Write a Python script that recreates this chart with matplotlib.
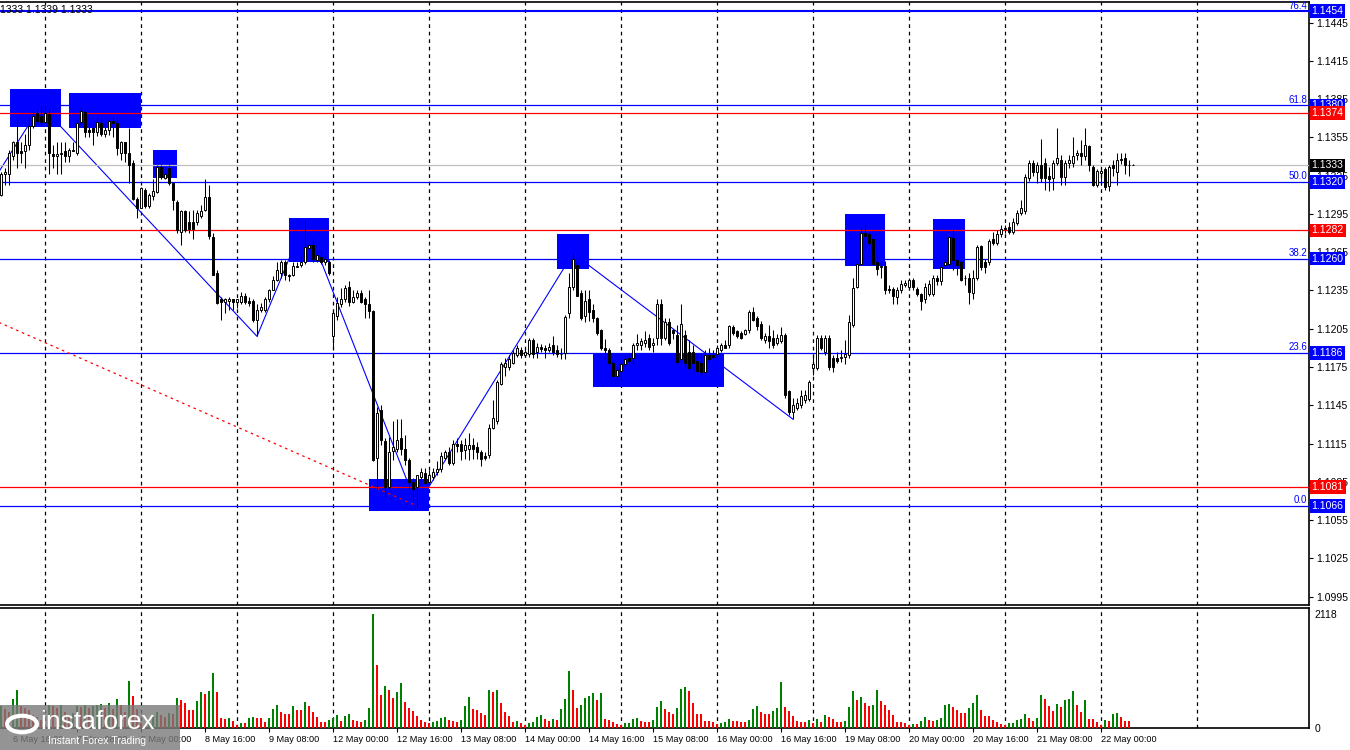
import numpy as np
import pandas as pd
import matplotlib
matplotlib.use("Agg")
import matplotlib.pyplot as plt
import matplotlib.transforms as mtransforms
from matplotlib.patches import Rectangle

plt.rcParams['font.family'] = ['Liberation Sans', 'DejaVu Sans']

# EURUSD H1 bars, 6 May 13:00 -> 22 May 07:00
opens = [
    1.1310, 1.1326, 1.1326, 1.1340, 1.1351, 1.1344, 1.1344, 1.1349, 1.1364, 1.1374, 1.1372, 1.1367,
    1.1373, 1.1342, 1.1340, 1.1342, 1.1344, 1.1340, 1.1345, 1.1343, 1.1367, 1.1375, 1.1361, 1.1362,
    1.1359, 1.1366, 1.1358, 1.1361, 1.1368, 1.1366, 1.1343, 1.1351, 1.1343, 1.1335, 1.1307, 1.1300,
    1.1314, 1.1301, 1.1309, 1.1312, 1.1332, 1.1323, 1.1331, 1.1319, 1.1304, 1.1281, 1.1297, 1.1289,
    1.1289, 1.1289, 1.1293, 1.1298, 1.1308, 1.1277, 1.1249, 1.1228, 1.1226, 1.1227, 1.1228, 1.1226,
    1.1226, 1.1231, 1.1227, 1.1227, 1.1212, 1.1220, 1.1220, 1.1228, 1.1235, 1.1243, 1.1249, 1.1257,
    1.1247, 1.1247, 1.1253, 1.1255, 1.1257, 1.1268, 1.1271, 1.1259, 1.1261, 1.1257, 1.1257, 1.1199,
    1.1215, 1.1224, 1.1228, 1.1238, 1.1226, 1.1230, 1.1233, 1.1228, 1.1224, 1.1219, 1.1104, 1.1141,
    1.1117, 1.1081, 1.1109, 1.1111, 1.1119, 1.1111, 1.1102, 1.1085, 1.1081, 1.1089, 1.1092, 1.1085,
    1.1089, 1.1093, 1.1095, 1.1104, 1.1108, 1.1100, 1.1115, 1.1115, 1.1110, 1.1111, 1.1114, 1.1112,
    1.1108, 1.1105, 1.1106, 1.1127, 1.1133, 1.1162, 1.1175, 1.1175, 1.1178, 1.1184, 1.1188, 1.1184,
    1.1185, 1.1196, 1.1187, 1.1191, 1.1190, 1.1188, 1.1192, 1.1188, 1.1185, 1.1186, 1.1217, 1.1238,
    1.1255, 1.1233, 1.1215, 1.1228, 1.1220, 1.1213, 1.1204, 1.1190, 1.1188, 1.1178, 1.1168, 1.1172,
    1.1177, 1.1182, 1.1182, 1.1192, 1.1192, 1.1194, 1.1198, 1.1192, 1.1198, 1.1224, 1.1198, 1.1210,
    1.1204, 1.1200, 1.1181, 1.1200, 1.1187, 1.1187, 1.1180, 1.1178, 1.1171, 1.1184, 1.1184, 1.1185,
    1.1188, 1.1192, 1.1192, 1.1206, 1.1203, 1.1202, 1.1201, 1.1204, 1.1218, 1.1213, 1.1209, 1.1196,
    1.1199, 1.1198, 1.1194, 1.1195, 1.1200, 1.1156, 1.1140, 1.1143, 1.1145, 1.1149, 1.1150, 1.1174,
    1.1174, 1.1198, 1.1187, 1.1198, 1.1182, 1.1182, 1.1182, 1.1183, 1.1184, 1.1208, 1.1238, 1.1256,
    1.1280, 1.1279, 1.1275, 1.1257, 1.1253, 1.1254, 1.1236, 1.1236, 1.1230, 1.1235, 1.1239, 1.1238,
    1.1243, 1.1236, 1.1232, 1.1228, 1.1232, 1.1232, 1.1245, 1.1242, 1.1255, 1.1256, 1.1276, 1.1259,
    1.1257, 1.1245, 1.1245, 1.1233, 1.1245, 1.1270, 1.1257, 1.1257, 1.1275, 1.1272, 1.1279, 1.1283,
    1.1285, 1.1281, 1.1288, 1.1296, 1.1297, 1.1323, 1.1335, 1.1328, 1.1333, 1.1335, 1.1325, 1.1323,
    1.1335, 1.1337, 1.1324, 1.1335, 1.1335, 1.1341, 1.1343, 1.1340, 1.1348, 1.1332, 1.1318, 1.1327,
    1.1330, 1.1317, 1.1333, 1.1328, 1.1338, 1.1339, 1.1333, 1.1333,
]
highs = [
    1.1328, 1.1331, 1.1345, 1.1352, 1.1369, 1.1351, 1.1358, 1.1371, 1.1375, 1.1377, 1.1380, 1.1380,
    1.1377, 1.1349, 1.1351, 1.1351, 1.1351, 1.1347, 1.1351, 1.1369, 1.1378, 1.1376, 1.1366, 1.1366,
    1.1370, 1.1369, 1.1366, 1.1369, 1.1371, 1.1369, 1.1352, 1.1351, 1.1362, 1.1337, 1.1308, 1.1316,
    1.1315, 1.1311, 1.1322, 1.1333, 1.1333, 1.1332, 1.1333, 1.1320, 1.1306, 1.1298, 1.1298, 1.1297,
    1.1298, 1.1298, 1.1302, 1.1322, 1.1318, 1.1280, 1.1251, 1.1230, 1.1229, 1.1230, 1.1228, 1.1228,
    1.1234, 1.1233, 1.1230, 1.1228, 1.1224, 1.1225, 1.1230, 1.1236, 1.1246, 1.1257, 1.1259, 1.1259,
    1.1248, 1.1257, 1.1257, 1.1262, 1.1290, 1.1272, 1.1275, 1.1267, 1.1267, 1.1263, 1.1259, 1.1220,
    1.1230, 1.1237, 1.1239, 1.1242, 1.1235, 1.1235, 1.1235, 1.1230, 1.1235, 1.1220, 1.1144, 1.1145,
    1.1119, 1.1120, 1.1133, 1.1134, 1.1134, 1.1122, 1.1104, 1.1088, 1.1090, 1.1096, 1.1096, 1.1094,
    1.1096, 1.1101, 1.1108, 1.1110, 1.1112, 1.1118, 1.1119, 1.1118, 1.1119, 1.1123, 1.1119, 1.1116,
    1.1110, 1.1108, 1.1130, 1.1149, 1.1165, 1.1179, 1.1182, 1.1184, 1.1188, 1.1192, 1.1191, 1.1190,
    1.1198, 1.1198, 1.1194, 1.1193, 1.1192, 1.1194, 1.1199, 1.1192, 1.1190, 1.1216, 1.1249, 1.1264,
    1.1257, 1.1235, 1.1235, 1.1235, 1.1224, 1.1214, 1.1205, 1.1197, 1.1190, 1.1180, 1.1175, 1.1180,
    1.1184, 1.1186, 1.1194, 1.1201, 1.1198, 1.1203, 1.1201, 1.1198, 1.1228, 1.1228, 1.1213, 1.1213,
    1.1205, 1.1208, 1.1224, 1.1204, 1.1196, 1.1192, 1.1184, 1.1186, 1.1188, 1.1190, 1.1188, 1.1192,
    1.1194, 1.1196, 1.1208, 1.1208, 1.1204, 1.1203, 1.1205, 1.1220, 1.1222, 1.1215, 1.1211, 1.1202,
    1.1208, 1.1204, 1.1201, 1.1206, 1.1202, 1.1157, 1.1151, 1.1151, 1.1157, 1.1157, 1.1165, 1.1184,
    1.1200, 1.1200, 1.1200, 1.1200, 1.1184, 1.1187, 1.1188, 1.1196, 1.1216, 1.1245, 1.1259, 1.1285,
    1.1286, 1.1281, 1.1276, 1.1263, 1.1257, 1.1258, 1.1239, 1.1238, 1.1238, 1.1243, 1.1243, 1.1245,
    1.1245, 1.1238, 1.1233, 1.1241, 1.1243, 1.1247, 1.1247, 1.1257, 1.1263, 1.1278, 1.1282, 1.1260,
    1.1259, 1.1247, 1.1249, 1.1251, 1.1271, 1.1271, 1.1260, 1.1275, 1.1281, 1.1282, 1.1286, 1.1286,
    1.1289, 1.1292, 1.1298, 1.1306, 1.1326, 1.1337, 1.1337, 1.1336, 1.1354, 1.1339, 1.1332, 1.1337,
    1.1362, 1.1341, 1.1337, 1.1341, 1.1355, 1.1345, 1.1353, 1.1362, 1.1349, 1.1333, 1.1330, 1.1331,
    1.1332, 1.1333, 1.1337, 1.1343, 1.1343, 1.1343, 1.1337, 1.1334,
]
lows = [
    1.1309, 1.1318, 1.1318, 1.1337, 1.1331, 1.1335, 1.1331, 1.1345, 1.1362, 1.1366, 1.1365, 1.1366,
    1.1326, 1.1331, 1.1326, 1.1326, 1.1336, 1.1336, 1.1344, 1.1341, 1.1365, 1.1355, 1.1355, 1.1349,
    1.1356, 1.1356, 1.1355, 1.1357, 1.1355, 1.1341, 1.1337, 1.1336, 1.1319, 1.1306, 1.1292, 1.1300,
    1.1300, 1.1300, 1.1306, 1.1311, 1.1322, 1.1322, 1.1318, 1.1298, 1.1280, 1.1271, 1.1281, 1.1280,
    1.1275, 1.1286, 1.1292, 1.1297, 1.1275, 1.1247, 1.1224, 1.1212, 1.1217, 1.1220, 1.1220, 1.1221,
    1.1224, 1.1224, 1.1223, 1.1210, 1.1199, 1.1218, 1.1218, 1.1226, 1.1235, 1.1242, 1.1245, 1.1243,
    1.1242, 1.1246, 1.1253, 1.1253, 1.1256, 1.1267, 1.1257, 1.1257, 1.1256, 1.1255, 1.1247, 1.1191,
    1.1212, 1.1222, 1.1226, 1.1223, 1.1225, 1.1228, 1.1225, 1.1213, 1.1213, 1.1101, 1.1079, 1.1114,
    1.1073, 1.1079, 1.1102, 1.1108, 1.1106, 1.1098, 1.1079, 1.1071, 1.1066, 1.1083, 1.1083, 1.1083,
    1.1086, 1.1090, 1.1093, 1.1102, 1.1098, 1.1098, 1.1108, 1.1102, 1.1103, 1.1102, 1.1103, 1.1103,
    1.1097, 1.1102, 1.1104, 1.1126, 1.1130, 1.1161, 1.1168, 1.1173, 1.1177, 1.1183, 1.1182, 1.1183,
    1.1183, 1.1182, 1.1182, 1.1187, 1.1182, 1.1187, 1.1184, 1.1183, 1.1181, 1.1181, 1.1213, 1.1235,
    1.1232, 1.1212, 1.1210, 1.1211, 1.1210, 1.1200, 1.1188, 1.1182, 1.1177, 1.1167, 1.1165, 1.1165,
    1.1175, 1.1177, 1.1177, 1.1188, 1.1188, 1.1191, 1.1188, 1.1187, 1.1192, 1.1192, 1.1196, 1.1192,
    1.1197, 1.1177, 1.1179, 1.1174, 1.1173, 1.1177, 1.1171, 1.1169, 1.1170, 1.1179, 1.1181, 1.1183,
    1.1187, 1.1190, 1.1190, 1.1200, 1.1198, 1.1197, 1.1200, 1.1202, 1.1211, 1.1204, 1.1196, 1.1194,
    1.1190, 1.1190, 1.1192, 1.1194, 1.1151, 1.1137, 1.1134, 1.1141, 1.1143, 1.1147, 1.1148, 1.1169,
    1.1173, 1.1188, 1.1184, 1.1173, 1.1171, 1.1178, 1.1179, 1.1177, 1.1182, 1.1206, 1.1237, 1.1255,
    1.1267, 1.1270, 1.1255, 1.1247, 1.1245, 1.1232, 1.1233, 1.1224, 1.1224, 1.1233, 1.1238, 1.1235,
    1.1235, 1.1231, 1.1220, 1.1225, 1.1231, 1.1231, 1.1239, 1.1239, 1.1253, 1.1253, 1.1251, 1.1247,
    1.1242, 1.1239, 1.1224, 1.1228, 1.1243, 1.1251, 1.1249, 1.1255, 1.1271, 1.1271, 1.1277, 1.1280,
    1.1279, 1.1279, 1.1286, 1.1294, 1.1295, 1.1321, 1.1325, 1.1319, 1.1320, 1.1314, 1.1313, 1.1314,
    1.1333, 1.1318, 1.1318, 1.1331, 1.1332, 1.1337, 1.1333, 1.1337, 1.1329, 1.1317, 1.1316, 1.1318,
    1.1314, 1.1313, 1.1325, 1.1318, 1.1334, 1.1326, 1.1325, 1.1333,
]
closes = [
    1.1326, 1.1328, 1.1343, 1.1351, 1.1343, 1.1343, 1.1349, 1.1364, 1.1372, 1.1368, 1.1367, 1.1374,
    1.1343, 1.1340, 1.1342, 1.1343, 1.1340, 1.1345, 1.1344, 1.1366, 1.1376, 1.1359, 1.1359, 1.1359,
    1.1367, 1.1358, 1.1361, 1.1368, 1.1366, 1.1347, 1.1351, 1.1343, 1.1333, 1.1307, 1.1300, 1.1315,
    1.1301, 1.1310, 1.1313, 1.1332, 1.1324, 1.1326, 1.1319, 1.1306, 1.1282, 1.1297, 1.1282, 1.1283,
    1.1283, 1.1296, 1.1297, 1.1308, 1.1278, 1.1247, 1.1225, 1.1226, 1.1228, 1.1228, 1.1226, 1.1228,
    1.1231, 1.1226, 1.1225, 1.1212, 1.1220, 1.1222, 1.1228, 1.1235, 1.1243, 1.1251, 1.1257, 1.1247,
    1.1246, 1.1254, 1.1254, 1.1257, 1.1269, 1.1271, 1.1260, 1.1263, 1.1257, 1.1260, 1.1249, 1.1217,
    1.1225, 1.1228, 1.1237, 1.1226, 1.1230, 1.1233, 1.1226, 1.1224, 1.1219, 1.1102, 1.1139, 1.1118,
    1.1081, 1.1108, 1.1112, 1.1118, 1.1111, 1.1102, 1.1085, 1.1079, 1.1090, 1.1093, 1.1084, 1.1090,
    1.1093, 1.1095, 1.1105, 1.1108, 1.1100, 1.1115, 1.1113, 1.1109, 1.1114, 1.1114, 1.1111, 1.1108,
    1.1103, 1.1104, 1.1127, 1.1135, 1.1163, 1.1177, 1.1178, 1.1181, 1.1186, 1.1190, 1.1184, 1.1187,
    1.1196, 1.1185, 1.1191, 1.1189, 1.1188, 1.1191, 1.1187, 1.1185, 1.1185, 1.1214, 1.1238, 1.1260,
    1.1231, 1.1213, 1.1227, 1.1218, 1.1213, 1.1202, 1.1190, 1.1188, 1.1178, 1.1168, 1.1173, 1.1177,
    1.1181, 1.1180, 1.1192, 1.1194, 1.1195, 1.1196, 1.1191, 1.1194, 1.1224, 1.1198, 1.1210, 1.1194,
    1.1202, 1.1179, 1.1209, 1.1178, 1.1174, 1.1178, 1.1172, 1.1171, 1.1184, 1.1181, 1.1183, 1.1190,
    1.1192, 1.1190, 1.1207, 1.1202, 1.1199, 1.1198, 1.1204, 1.1218, 1.1212, 1.1207, 1.1198, 1.1199,
    1.1195, 1.1192, 1.1198, 1.1200, 1.1153, 1.1140, 1.1145, 1.1147, 1.1152, 1.1153, 1.1163, 1.1177,
    1.1198, 1.1190, 1.1198, 1.1175, 1.1175, 1.1180, 1.1183, 1.1185, 1.1210, 1.1237, 1.1256, 1.1280,
    1.1278, 1.1272, 1.1256, 1.1252, 1.1254, 1.1235, 1.1235, 1.1231, 1.1235, 1.1240, 1.1241, 1.1243,
    1.1238, 1.1232, 1.1227, 1.1238, 1.1240, 1.1245, 1.1242, 1.1253, 1.1257, 1.1277, 1.1259, 1.1255,
    1.1243, 1.1245, 1.1234, 1.1245, 1.1269, 1.1253, 1.1253, 1.1274, 1.1272, 1.1279, 1.1283, 1.1284,
    1.1281, 1.1289, 1.1296, 1.1300, 1.1324, 1.1335, 1.1328, 1.1333, 1.1323, 1.1323, 1.1322, 1.1335,
    1.1339, 1.1324, 1.1335, 1.1337, 1.1340, 1.1343, 1.1340, 1.1349, 1.1333, 1.1318, 1.1329, 1.1329,
    1.1316, 1.1332, 1.1331, 1.1337, 1.1337, 1.1333, 1.1333, 1.1333,
]
volumes = [
    400, 350, 300, 530, 710, 400, 380, 330, 250, 200, 150, 60,
    420, 410, 380, 420, 300, 250, 280, 400, 390, 420, 380, 410,
    420, 440, 380, 470, 350, 530, 420, 300, 880, 600, 350, 100,
    80, 150, 200, 300, 250, 200, 280, 260, 557, 514, 464, 340,
    340, 508, 675, 631, 693, 1028, 675, 180, 170, 190, 130, 60,
    99, 95, 192, 210, 192, 180, 118, 180, 359, 433, 303, 266,
    260, 415, 340, 335, 489, 415, 303, 210, 118, 115, 142, 180,
    248, 136, 229, 266, 155, 136, 118, 155, 378, 2118, 1176, 619,
    786, 712, 563, 675, 842, 489, 378, 322, 229, 155, 118, 99,
    118, 136, 192, 210, 140, 136, 118, 155, 415, 582, 359, 340,
    285, 248, 712, 675, 712, 470, 303, 229, 118, 136, 99, 62,
    99, 118, 210, 248, 173, 136, 173, 155, 359, 545, 1065, 712,
    378, 433, 563, 600, 656, 526, 656, 173, 155, 118, 80, 62,
    99, 100, 173, 192, 136, 118, 115, 155, 396, 508, 359, 303,
    266, 378, 730, 768, 693, 470, 266, 260, 136, 130, 118, 80,
    99, 105, 173, 136, 130, 118, 115, 155, 359, 415, 303, 266,
    260, 322, 378, 860, 396, 322, 229, 136, 118, 115, 155, 99,
    173, 118, 248, 210, 173, 118, 115, 136, 396, 693, 526, 582,
    470, 415, 420, 712, 508, 433, 340, 248, 118, 105, 93, 56,
    80, 78, 136, 210, 155, 136, 155, 192, 433, 452, 396, 340,
    285, 280, 378, 470, 619, 340, 229, 225, 155, 118, 80, 62,
    99, 100, 155, 158, 266, 192, 136, 192, 619, 545, 415, 322,
    452, 396, 526, 545, 693, 433, 303, 526, 173, 170, 118, 62,
    155, 136, 266, 270, 210, 136, 130, 6,
]

# fibo grid levels and horizontal support/resistance lines
fib_levels = [1.1454, 1.1380, 1.1320, 1.1260, 1.1186, 1.1066]
fib_names = ['76.4', '61.8', '50.0', '38.2', '23.6', '0.0']
red_levels = [1.1374, 1.1282, 1.1081]
bid = 1.1333

# zigzag vertices (bar index, price) and the red dotted trend line
zz_bars = [-5, 10, 64, 76, 104, 143, 198]
zz_prices = [1.1306, 1.1380, 1.1199, 1.1290, 1.1066, 1.1264, 1.1134]
trend_bars = [-10, 104]
trend_prices = [1.1223, 1.1066]

# blue zones: (first bar, last bar, top price, bottom price)
zones = [
    (2.25, 15.0, 1.1393, 1.1363),
    (17.0, 35.0, 1.1390, 1.1362),
    (38.0, 44.0, 1.1345, 1.1323),
    (72.0, 82.0, 1.1292, 1.1257),
    (92.0, 107.0, 1.1087, 1.1062),
    (139.0, 147.0, 1.1279, 1.1252),
    (148.0, 180.75, 1.1186, 1.1159),
    (211.0, 221.0, 1.1295, 1.1254),
    (233.0, 241.0, 1.1291, 1.1252),
]

o = np.array(opens)
h = np.array(highs)
l = np.array(lows)
c = np.array(closes)
v = np.array(volumes)
n = len(c)
idx = np.arange(n)

hours = pd.date_range("2025-05-06 13:00", periods=n + 120, freq="h")
hours = hours[hours.dayofweek < 5][:n + 60]

W, H = 1350, 750
fig = plt.figure(figsize=(13.5, 7.5), dpi=100)
ax = fig.add_axes([0, 1 - 605 / H, 1309 / W, 603 / H])
vax = fig.add_axes([0, 1 - 728 / H, 1309 / W, 120 / H])

for a in (ax, vax):
    a.set_xlim(-0.25, 327)
    a.spines['left'].set_visible(False)
    for s in ('top', 'right', 'bottom'):
        a.spines[s].set_linewidth(1.2)

ax.set_ylim(1.09884, 1.14611)
vax.set_ylim(0, 2229)

# day separators
for d in range(11, 300, 24):
    for a in (ax, vax):
        a.axvline(d, color='black', lw=0.9, ls=(0, (3, 3)), zorder=1)

# zigzag and zones
ax.plot(zz_bars, zz_prices, color='#0000ff', lw=0.8, zorder=1.5)
for x0, x1, top, bot in zones:
    ax.add_patch(Rectangle((x0, bot), x1 - x0, top - bot, fc='#0000ff', ec='none', zorder=2))

# levels
for lev in fib_levels:
    ax.axhline(lev, color='#0000ff', lw=1.5 if lev == fib_levels[0] else 0.9, zorder=3)
for lev in red_levels:
    ax.axhline(lev, color='#ff0000', lw=0.9, zorder=3)
ax.axhline(bid, color='#c0c0c0', lw=0.9, zorder=3)
ax.plot(trend_bars, trend_prices, color='#ff0000', lw=0.9, ls=(0, (2, 3)), zorder=3)

# candles
up = c >= o
ax.vlines(idx, l, h, color='black', lw=0.75, zorder=4)
ax.bar(idx, np.abs(c - o), bottom=np.minimum(o, c), width=0.55,
       color=np.where(up, 'white', 'black'), edgecolor='black', linewidth=0.7, zorder=5)

# price scale
ax.yaxis.tick_right()
ax.set_yticks(np.arange(1.0995, 1.1446, 0.0030))
ax.yaxis.set_major_formatter(plt.FuncFormatter(lambda y, _: f"{y:.4f}"))
ax.tick_params(axis='y', length=3, width=0.8, pad=2, labelsize=7.5)
ax.tick_params(axis='x', bottom=False, labelbottom=False)

tr = mtransforms.blended_transform_factory(ax.transAxes, ax.transData)
tags = [(lev, '#0000ff') for lev in fib_levels] + [(lev, '#ff0000') for lev in red_levels] + [(bid, 'black')]
for lev, col in tags:
    ax.text(1.002, lev, f"{lev:.4f}", transform=tr, ha='left', va='center', color='white',
            fontsize=7.5, zorder=10, clip_on=False,
            bbox=dict(boxstyle='square,pad=0.18', fc=col, ec='none'))
for lev, name in zip(fib_levels, fib_names):
    ax.text(0.9985, lev + 0.00004, name, transform=tr, ha='right', va='bottom',
            color='#0000ff', fontsize=7, zorder=10)

# volumes
vcol = ['#008000'] + ['#008000' if v[i] > v[i - 1] else '#ff0000' for i in range(1, n)]
vax.bar(idx, v, width=0.7, color=vcol, zorder=3)
vax.yaxis.tick_right()
vax.set_yticks([0, 2118])
vax.set_yticklabels(['0', '2118'])
vax.tick_params(axis='y', length=0, pad=4, labelsize=7.5)

lab_idx = list(range(3, n, 16))
lab_txt = [f"{hours[i].day} May {hours[i]:%H:%M}" for i in lab_idx]
vax.set_xticks(lab_idx)
vax.set_xticklabels(lab_txt, fontsize=6.6, ha='left')
vax.tick_params(axis='x', length=3, width=0.8, pad=2)

fig.text(0.0, 1 - 10 / H, "1333 1.1339 1.1333", fontsize=7.5, va='center', ha='left')

# watermark
fig.patches.append(Rectangle((0, 0), 180 / W, 45 / H, transform=fig.transFigure,
                             fc='#7a7a7a', ec='none', alpha=0.8, zorder=5))
fig.text(40 / W, 1 - 722 / H, "instaforex", color='white', fontsize=19, va='center', ha='left', zorder=6)
fig.text(48 / W, 1 - 741 / H, "Instant Forex Trading", color='white', fontsize=7.5, va='center', ha='left', zorder=6)
fig.patches.append(plt.Circle((22 / W, 1 - 724 / H), 0.011, transform=fig.transFigure,
                              fc='none', ec='white', lw=3, zorder=6))

fig.savefig("out.png", dpi=100, facecolor='white')
